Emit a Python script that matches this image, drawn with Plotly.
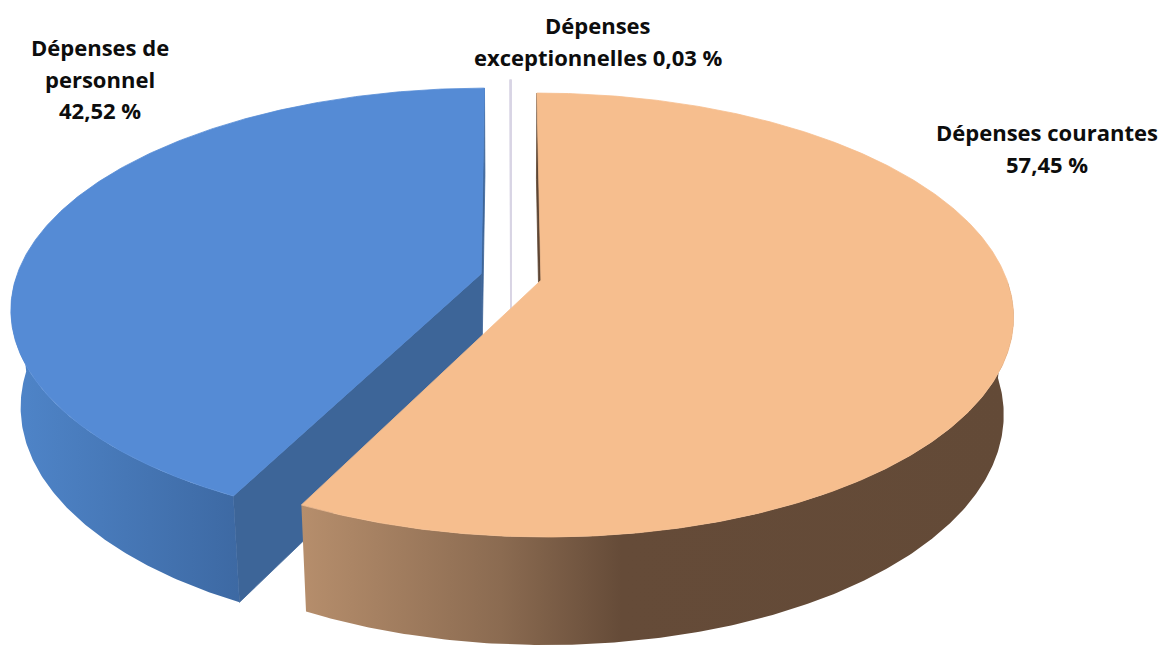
import numpy as np
import plotly.graph_objects as go

# Budget breakdown (percent of total spending)
categories = ["Dépenses courantes", "Dépenses de personnel", "Dépenses exceptionnelles"]
values = [57.45, 42.52, 0.03]
value_labels = ["57,45 %", "42,52 %", "0,03 %"]
label_lines = [
    ["Dépenses courantes", "{v}"],
    ["Dépenses de", "personnel", "{v}"],
    ["Dépenses", "exceptionnelles {v}"],
]

# Styling per slice
top_colors = ["#F6BE8E", "#558BD5", "#E2DFEC"]
wall_scales = [
    [[0.0, "#B68E6C"], [0.28, "#8B6B51"], [0.45, "#654B38"], [1.0, "#634A37"]],
    [[0.0, "#4F85C9"], [1.0, "#3D69A3"]],
    [[0.0, "#D8D4E4"], [1.0, "#D8D4E4"]],
]
cut_colors = ["#5E4634", "#3D6598", "#D8D4E4"]
label_pos = [(1047, 132), (100, 47), (598, 25)]
LINE_GAP = 31.5

W, H = 1162, 645

# 3D pie geometry: unit radius disc, viewed from an elevated perspective camera
CX, CY = 511.0, 277.0
SIN_E = 0.4635
COS_E = np.sqrt(1 - SIN_E ** 2)
DIST = 5.68
FOCAL = 2641.0
THICK = 0.238
EXPLODE = 0.066
CAM = np.array([0.0, -DIST * COS_E, DIST * SIN_E])


def project(x, y, z):
    x, y, z = np.asarray(x, float), np.asarray(y, float), np.asarray(z, float)
    w = y * COS_E - z * SIN_E + DIST
    return CX + FOCAL * x / w, CY - FOCAL * (y * SIN_E + z * COS_E) / w


def poly(fig, xs, ys, zs, color=None, scale=None, line_w=0.0, line_c=None):
    sx, sy = project(xs, ys, zs)
    sx = np.append(sx, sx[0])
    sy = np.append(sy, sy[0])
    kw = dict(fillcolor=color) if scale is None else dict(
        fillgradient=dict(type="horizontal", colorscale=scale))
    fig.add_trace(go.Scatter(
        x=sx, y=sy, mode="lines", fill="toself",
        line=dict(width=line_w, color=line_c or color or "rgba(0,0,0,0)"),
        hoverinfo="skip", showlegend=False, **kw))


fig = go.Figure()

# slice angles, clockwise from 12 o'clock
slices = []
cum = 0.0
for i, v in enumerate(values):
    a1 = 90.0 - 3.6 * cum
    a0 = a1 - 3.6 * v
    cum += v
    mid = np.radians((a0 + a1) / 2)
    slices.append(dict(i=i, a0=a0, a1=a1,
                       ox=EXPLODE * np.cos(mid), oy=EXPLODE * np.sin(mid)))

# paint back slices first
for sl in sorted(slices, key=lambda s: -s["oy"]):
    i, a0, a1, ox, oy = sl["i"], sl["a0"], sl["a1"], sl["ox"], sl["oy"]
    thin = values[i] < 1
    lw = 1.6 if thin else 0.0
    n = max(3, int(abs(a1 - a0) * 2))
    t = np.radians(np.linspace(a0, a1, n))

    # radial cut faces
    for a, sign in ((a0, -1), (a1, 1)):
        ar = np.radians(a)
        normal = np.array([-np.sin(ar), np.cos(ar), 0.0]) * sign
        p = np.array([ox + 0.5 * np.cos(ar), oy + 0.5 * np.sin(ar), -THICK / 2])
        if normal @ (p - CAM) < 0:
            rx, ry = ox + np.cos(ar), oy + np.sin(ar)
            poly(fig, [ox, rx, rx, ox], [oy, ry, ry, oy], [0, 0, -THICK, -THICK],
                 color=cut_colors[i], line_w=max(lw, 0.8), line_c=cut_colors[i])

    # outer curved wall (front half)
    tf = t[np.sin(t) <= 0]
    if len(tf) > 1 and not thin:
        xs = np.concatenate([ox + np.cos(tf), ox + np.cos(tf[::-1])])
        ys = np.concatenate([oy + np.sin(tf), oy + np.sin(tf[::-1])])
        zs = np.concatenate([np.zeros(len(tf)), -THICK * np.ones(len(tf))])
        poly(fig, xs, ys, zs, scale=wall_scales[i])

    # top face
    xs = np.concatenate([[ox], ox + np.cos(t)])
    ys = np.concatenate([[oy], oy + np.sin(t)])
    poly(fig, xs, ys, np.zeros(len(xs)), color=top_colors[i],
         line_w=max(lw, 0.8), line_c=cut_colors[i] if thin else top_colors[i])

# slice labels, one annotation per text line
for i, cat in enumerate(categories):
    x0, y0 = label_pos[i]
    for k, line in enumerate(label_lines[i]):
        fig.add_annotation(
            x=x0, y=y0 + k * LINE_GAP, xref="x", yref="y",
            text="<b>" + line.format(v=value_labels[i]) + "</b>",
            showarrow=False, align="center", xanchor="center", yanchor="middle",
            font=dict(family="Open Sans", size=22, color="#0D0D0D"))

fig.update_xaxes(range=[0, W], visible=False, fixedrange=True)
fig.update_yaxes(range=[H, 0], visible=False, fixedrange=True)
fig.update_layout(
    width=W, height=H, margin=dict(l=0, r=0, t=0, b=0),
    paper_bgcolor="white", plot_bgcolor="white",
)

fig.write_html("out.html")
